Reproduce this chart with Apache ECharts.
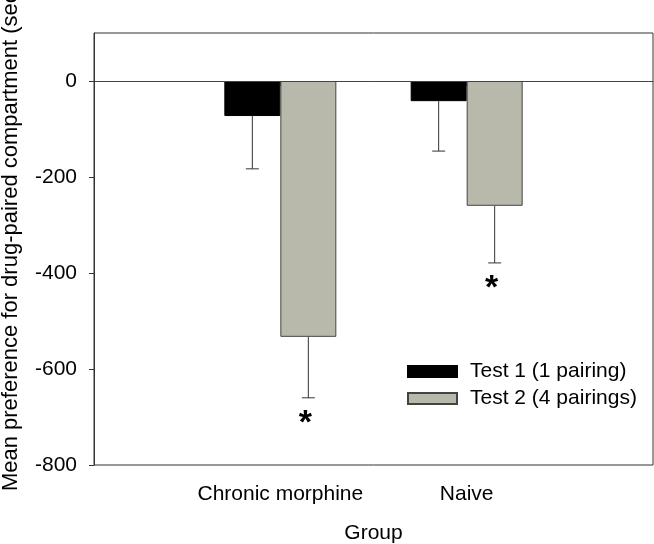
<!DOCTYPE html>
<html>
<head>
<meta charset="utf-8">
<script src="https://cdn.jsdelivr.net/npm/echarts@6/dist/echarts.min.js"></script>
<style>
  html, body { margin: 0; padding: 0; background: #fff; }
  #container { width: 654px; height: 544px; }
</style>
</head>
<body>
<div id="container"></div>
<script>
    // groups sit at x = 1 and x = 2 on a 0..3 value axis
    var groups = ['Chronic morphine', 'Naive'];
    var groupPos = [1, 2];
    var test1Mean = [-73, -42];
    var test1Low = [-183, -146];
    var test2Mean = [-533, -260];
    var test2Low = [-660, -379];
    var test2Star = [true, true];
    var yTicks = [-800, -600, -400, -200, 0];

    var font = 'Liberation Sans, Arial, sans-serif';
    var fs = 21;

    function pairs(vals) {
        return vals.map(function (v, i) { return [groupPos[i], v]; });
    }
    function errData(mean, low, star) {
        return mean.map(function (m, i) { return [groupPos[i], m, low[i], star ? (star[i] ? 1 : 0) : 0]; });
    }

    // draws a one-sided (downward) error bar, offset in px from the group centre
    function errRender(offset) {
        return function (params, api) {
            var top = api.coord([api.value(0), api.value(1)]);
            var bot = api.coord([api.value(0), api.value(2)]);
            var x = top[0] + offset;
            var kids = [
                { type: 'line', shape: { x1: x, y1: top[1], x2: x, y2: bot[1] },
                  style: { stroke: '#333', lineWidth: 1 } },
                { type: 'line', shape: { x1: x - 6.5, y1: bot[1], x2: x + 6.5, y2: bot[1] },
                  style: { stroke: '#333', lineWidth: 1 } }
            ];
            if (api.value(3)) {
                kids.push({ type: 'text', x: x - 3, y: bot[1] + 9,
                    style: { text: '*', fontSize: 34, fontFamily: font, fontWeight: 'bold',
                             fill: '#000', align: 'center', verticalAlign: 'top' } });
            }
            return { type: 'group', children: kids };
        };
    }

    var myChart = echarts.init(document.getElementById('container'));

    var option = {
        animation: false,
        backgroundColor: '#fff',
        grid: {
            left: 94, right: 1, top: 33, bottom: 79,
            outerBoundsMode: 'none', containLabel: false,
            show: true, borderColor: '#333', borderWidth: 1
        },
        legend: {
            orient: 'vertical',
            left: 407, top: 361, padding: 0,
            itemWidth: 49, itemHeight: 11, itemGap: 6,
            icon: 'rect',
            textStyle: { fontSize: fs, fontFamily: font, color: '#000', padding: [0, 0, 0, 8] },
            data: ['Test 1 (1 pairing)', 'Test 2 (4 pairings)']
        },
        xAxis: {
            type: 'value', min: 0, max: 3,
            name: 'Group', nameLocation: 'middle', nameGap: 58,
            nameTextStyle: { fontSize: fs, fontFamily: font, color: '#000' },
            splitLine: { show: false },
            axisLine: { show: true, lineStyle: { color: '#333' } },
            axisTick: { show: true, customValues: groupPos, inside: false, length: 5, lineStyle: { color: '#333' } },
            axisLabel: {
                customValues: groupPos, margin: 19,
                fontSize: fs, fontFamily: font, color: '#000',
                formatter: function (v) { return groups[groupPos.indexOf(v)] || ''; }
            }
        },
        yAxis: {
            type: 'value', min: -800, max: 100, interval: 200,
            name: 'Mean preference for drug-paired compartment (sec)',
            nameLocation: 'middle', nameGap: 72,
            nameTextStyle: { fontSize: 22, fontFamily: font, color: '#000', padding: [0, 0, 0, 22] },
            splitLine: { show: false },
            axisLine: { show: true, lineStyle: { color: '#333' } },
            axisTick: { show: true, customValues: yTicks, length: 5, lineStyle: { color: '#333' } },
            axisLabel: {
                customValues: yTicks, margin: 17,
                fontSize: fs, fontFamily: font, color: '#000'
            }
        },
        series: [
            {
                name: 'Test 1 (1 pairing)', type: 'bar',
                barWidth: 56, barGap: '0%',
                itemStyle: { color: '#000', borderColor: '#000', borderWidth: 1 },
                data: pairs(test1Mean),
                markLine: {
                    silent: true, symbol: ['none', 'none'],
                    label: { show: false },
                    lineStyle: { color: '#444', width: 1, type: 'solid' },
                    data: [{ yAxis: 0 }]
                }
            },
            {
                name: 'Test 2 (4 pairings)', type: 'bar',
                barWidth: 56, barGap: '0%',
                itemStyle: { color: '#b8b8ab', borderColor: '#444', borderWidth: 1 },
                data: pairs(test2Mean)
            },
            {
                type: 'custom', renderItem: errRender(-28), silent: true,
                data: errData(test1Mean, test1Low, null)
            },
            {
                type: 'custom', renderItem: errRender(28), silent: true,
                data: errData(test2Mean, test2Low, test2Star)
            }
        ]
    };

    if (option && typeof option === 'object') {
        myChart.setOption(option);
    }
</script>
</body>
</html>
